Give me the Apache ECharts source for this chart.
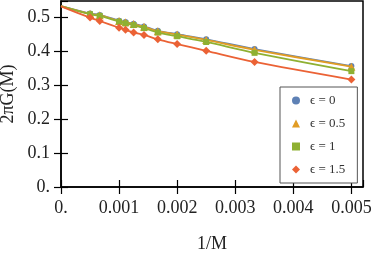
<!DOCTYPE html>
<html><head><meta charset="utf-8">
<script src="https://cdn.jsdelivr.net/npm/echarts@6/dist/echarts.min.js"></script>
<style>html,body{margin:0;padding:0;background:#fff}#c{width:374px;height:254px}</style>
</head><body><div id="c"></div>
<script>
const invM = [0.0005, 0.000667, 0.001, 0.001111, 0.00125, 0.001429, 0.001667, 0.002, 0.0025, 0.003333, 0.005];
const eps0   = [0.512, 0.508, 0.491, 0.487, 0.482, 0.474, 0.461, 0.451, 0.436, 0.407, 0.357];
const eps05  = [0.511, 0.507, 0.490, 0.486, 0.481, 0.473, 0.460, 0.450, 0.434, 0.405, 0.355];
const eps1   = [0.510, 0.505, 0.488, 0.483, 0.478, 0.469, 0.456, 0.445, 0.428, 0.396, 0.342];
const eps15  = [0.500, 0.490, 0.470, 0.464, 0.456, 0.449, 0.436, 0.422, 0.402, 0.369, 0.317];
const intercepts = [0.534, 0.534, 0.534, 0.533];
const names = ['\u03f5 = 0', '\u03f5 = 0.5', '\u03f5 = 1', '\u03f5 = 1.5'];
const colors = ['#5E81B5', '#E19C24', '#8FB032', '#EB6235'];
const symbols = ['circle', 'triangle', 'rect', 'diamond'];
const xTicks = [0, 0.001, 0.002, 0.003, 0.004, 0.005];
const yTicks = [0, 0.1, 0.2, 0.3, 0.4, 0.5];

const font = 'Liberation Serif';
const symSizes = [6, 8, 6, 8];
const allSeries = [eps0, eps05, eps1, eps15];
const series = allSeries.map((vals, i) => ({
  name: names[i], type: 'line', smooth: 0.3,
  symbol: symbols[i], symbolSize: symSizes[i],
  itemStyle: { color: colors[i] },
  lineStyle: { color: colors[i], width: 1.8 },
  z: 2 + i,
  data: [{ value: [0, intercepts[i]], symbol: 'none' }].concat(invM.map((x, k) => [x, vals[k]]))
}));

const fmt = v => (Math.abs(v) < 1e-12 ? '0.' : String(+v.toFixed(3)));
const chart = echarts.init(document.getElementById('c'));
chart.setOption({
  animation: false,
  grid: { left: 61, right: 11, top: 1, bottom: 67, outerBoundsMode: 'none', containLabel: false,
          show: true, borderColor: '#000', borderWidth: 1.5 },
  legend: {
    orient: 'vertical', left: 280, top: 87,
    data: names.map((n, i) => ({ name: n, icon: symbols[i] })),
    itemWidth: 8, itemHeight: 8, itemGap: 10,
    padding: [7, 12, 7, 12],
    borderColor: '#555', borderWidth: 1, backgroundColor: '#fff',
    textStyle: { fontFamily: font, fontSize: 13, color: '#333', padding: [0, 0, 0, 5] }
  },
  xAxis: [{
    type: 'value', min: 0, max: 0.0052, interval: 0.001,
    name: '1/M', nameLocation: 'middle', nameGap: 48, nameMoveOverlap: false,
    nameTextStyle: { fontFamily: font, fontSize: 18, color: '#222' },
    axisLine: { lineStyle: { color: '#000', width: 1.5 } },
    axisTick: { length: 7, lineStyle: { color: '#000', width: 1.2 } },
    axisLabel: { fontFamily: font, fontSize: 18, color: '#222', margin: 12, formatter: fmt, showMaxLabel: false },
    splitLine: { show: false }
  }, {
    type: 'value', min: 0, max: 0.0052, interval: 0.001, position: 'bottom',
    axisLine: { show: false },
    axisTick: { inside: true, length: 7, lineStyle: { color: '#000', width: 1.2 } },
    axisLabel: { show: false }, splitLine: { show: false }
  }],
  yAxis: [{
    type: 'value', min: 0, max: 0.549, interval: 0.1,
    name: '2\u03c0G(M)', nameLocation: 'middle', nameGap: 44, nameMoveOverlap: false,
    nameTextStyle: { fontFamily: font, fontSize: 18, color: '#222' },
    axisLine: { lineStyle: { color: '#000', width: 1.5 } },
    axisTick: { length: 7, lineStyle: { color: '#000', width: 1.2 } },
    axisLabel: { fontFamily: font, fontSize: 18, color: '#222', margin: 11, formatter: fmt, showMaxLabel: false },
    splitLine: { show: false }
  }, {
    type: 'value', min: 0, max: 0.549, interval: 0.1, position: 'left',
    axisLine: { show: false },
    axisTick: { inside: true, length: 7, lineStyle: { color: '#000', width: 1.2 } },
    axisLabel: { show: false }, splitLine: { show: false }
  }],
  series: series
});
</script></body></html>
